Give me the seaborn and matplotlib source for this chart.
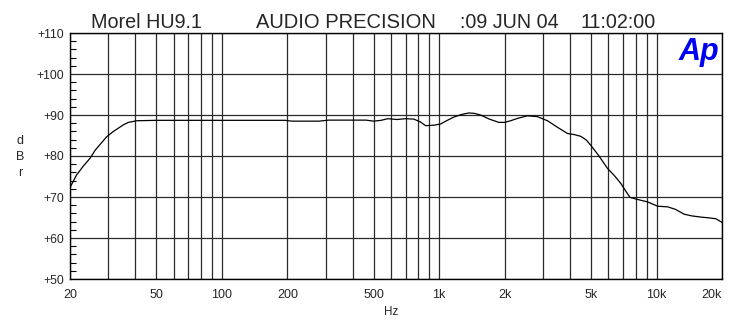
import matplotlib
matplotlib.use("Agg")
import matplotlib.pyplot as plt
import seaborn as sns
import pandas as pd
from matplotlib.ticker import FixedLocator, NullFormatter

# Frequency response (Hz, dBr)
freq = [20, 21.4, 23, 24.7, 26.1, 28, 29.5, 31.5, 33.4, 35.2, 37.1, 40.6, 50, 100,
        150, 195, 210, 280, 310, 460, 500, 540, 580, 640, 700, 764, 820, 865, 940,
        1014, 1080, 1168, 1260, 1369, 1450, 1550, 1700, 1882, 2000, 2131, 2300, 2543,
        2828, 3148, 3500, 3890, 4200, 4480, 4750, 4980, 5400, 5940, 6400, 6850, 7200,
        7550, 8180, 9100, 10110, 11240, 12200, 13400, 14500, 16000, 17500, 18750, 20000]
dbr = [72.3, 75.3, 77.5, 79.4, 81.4, 83.3, 84.7, 85.9, 86.8, 87.6, 88.2, 88.6, 88.7, 88.7,
       88.7, 88.7, 88.5, 88.5, 88.75, 88.75, 88.5, 88.7, 89.1, 88.9, 89.1, 89.0, 88.3, 87.4, 87.5,
       87.8, 88.6, 89.5, 90.1, 90.5, 90.4, 90.0, 89.0, 88.2, 88.2, 88.6, 89.2, 89.8,
       89.6, 88.6, 87.0, 85.5, 85.2, 84.8, 83.9, 82.6, 80.2, 77.0, 75.2, 73.3, 71.5,
       69.9, 69.4, 68.8, 67.75, 67.6, 67.0, 65.8, 65.4, 65.1, 64.9, 64.7, 63.8]

x_ticks = [20, 50, 100, 200, 500, 1000, 2000, 5000, 10000, 20000]
x_labels = ["20", "50", "100", "200", "500", "1k", "2k", "5k", "10k", "20k"]
x_grid = [30, 40, 60, 70, 80, 90, 300, 400, 600, 700, 800, 900,
          3000, 4000, 6000, 7000, 8000, 9000]
y_ticks = [50, 60, 70, 80, 90, 100, 110]
y_labels = ["+50", "+60", "+70", "+80", "+90", "+100", "+110"]

df = pd.DataFrame({"Hz": freq, "dBr": dbr})

sns.set_style("white")
plt.rcParams["font.family"] = ["Liberation Sans", "DejaVu Sans"]

fig = plt.figure(figsize=(7.39, 3.22), dpi=100)
ax = fig.add_axes([70 / 739, 1 - 279 / 322, 652 / 739, 246 / 322])

sns.lineplot(data=df, x="Hz", y="dBr", ax=ax, color="black", linewidth=0.9)

ax.set_xscale("log")
ax.set_xlim(20, 20000)
ax.set_ylim(50, 110)

ax.xaxis.set_major_locator(FixedLocator(x_ticks))
ax.xaxis.set_minor_locator(FixedLocator(x_grid))
ax.xaxis.set_minor_formatter(NullFormatter())
ax.set_xticks(x_ticks)
ax.set_xticklabels(x_labels, fontsize=9)
ax.get_xticklabels()[-1].set_horizontalalignment("right")
ax.set_yticks(y_ticks)
ax.set_yticklabels(y_labels, fontsize=8.8)
ax.yaxis.set_minor_locator(FixedLocator([v for v in range(52, 110, 2) if v % 10]))

ax.tick_params(axis="x", which="both", length=0, pad=7)
ax.tick_params(axis="y", which="major", length=0, pad=4)
ax.tick_params(axis="y", which="minor", direction="in", length=4.5, width=0.8,
               left=True, color="black")

ax.grid(True, which="major", axis="both", color="#2a2a2a", linewidth=0.9)
ax.grid(True, which="minor", axis="x", color="#2a2a2a", linewidth=0.9)
ax.set_axisbelow(True)
for s in ax.spines.values():
    s.set_color("black")
    s.set_linewidth(1.0)

ax.set_xlabel("Hz", fontsize=8.4)
ax.xaxis.set_label_coords(321 / 652, -0.11)
ax.set_ylabel("")
fig.text(20 / 739, 1 - 157 / 322, "d\nB\nr", fontsize=9, ha="center", va="center",
         linespacing=1.45)

fig.text(91 / 739, 1 - 27.5 / 322, "Morel HU9.1", fontsize=14.2, ha="left", va="baseline")
fig.text(256 / 739, 1 - 27.5 / 322, "AUDIO PRECISION", fontsize=14.5, ha="left", va="baseline")
fig.text(460 / 739, 1 - 27.5 / 322, ":09 JUN 04", fontsize=14.2, ha="left", va="baseline")
fig.text(580 / 739, 1 - 27.5 / 322, "11:02:00", fontsize=14.2, ha="left", va="baseline")
fig.text(719 / 739, 1 - 60 / 322, "Ap", fontsize=22, fontweight="heavy", fontstyle="italic",
         color="#0000f0", ha="right", va="baseline")

plt.savefig("out.png", dpi=100)
